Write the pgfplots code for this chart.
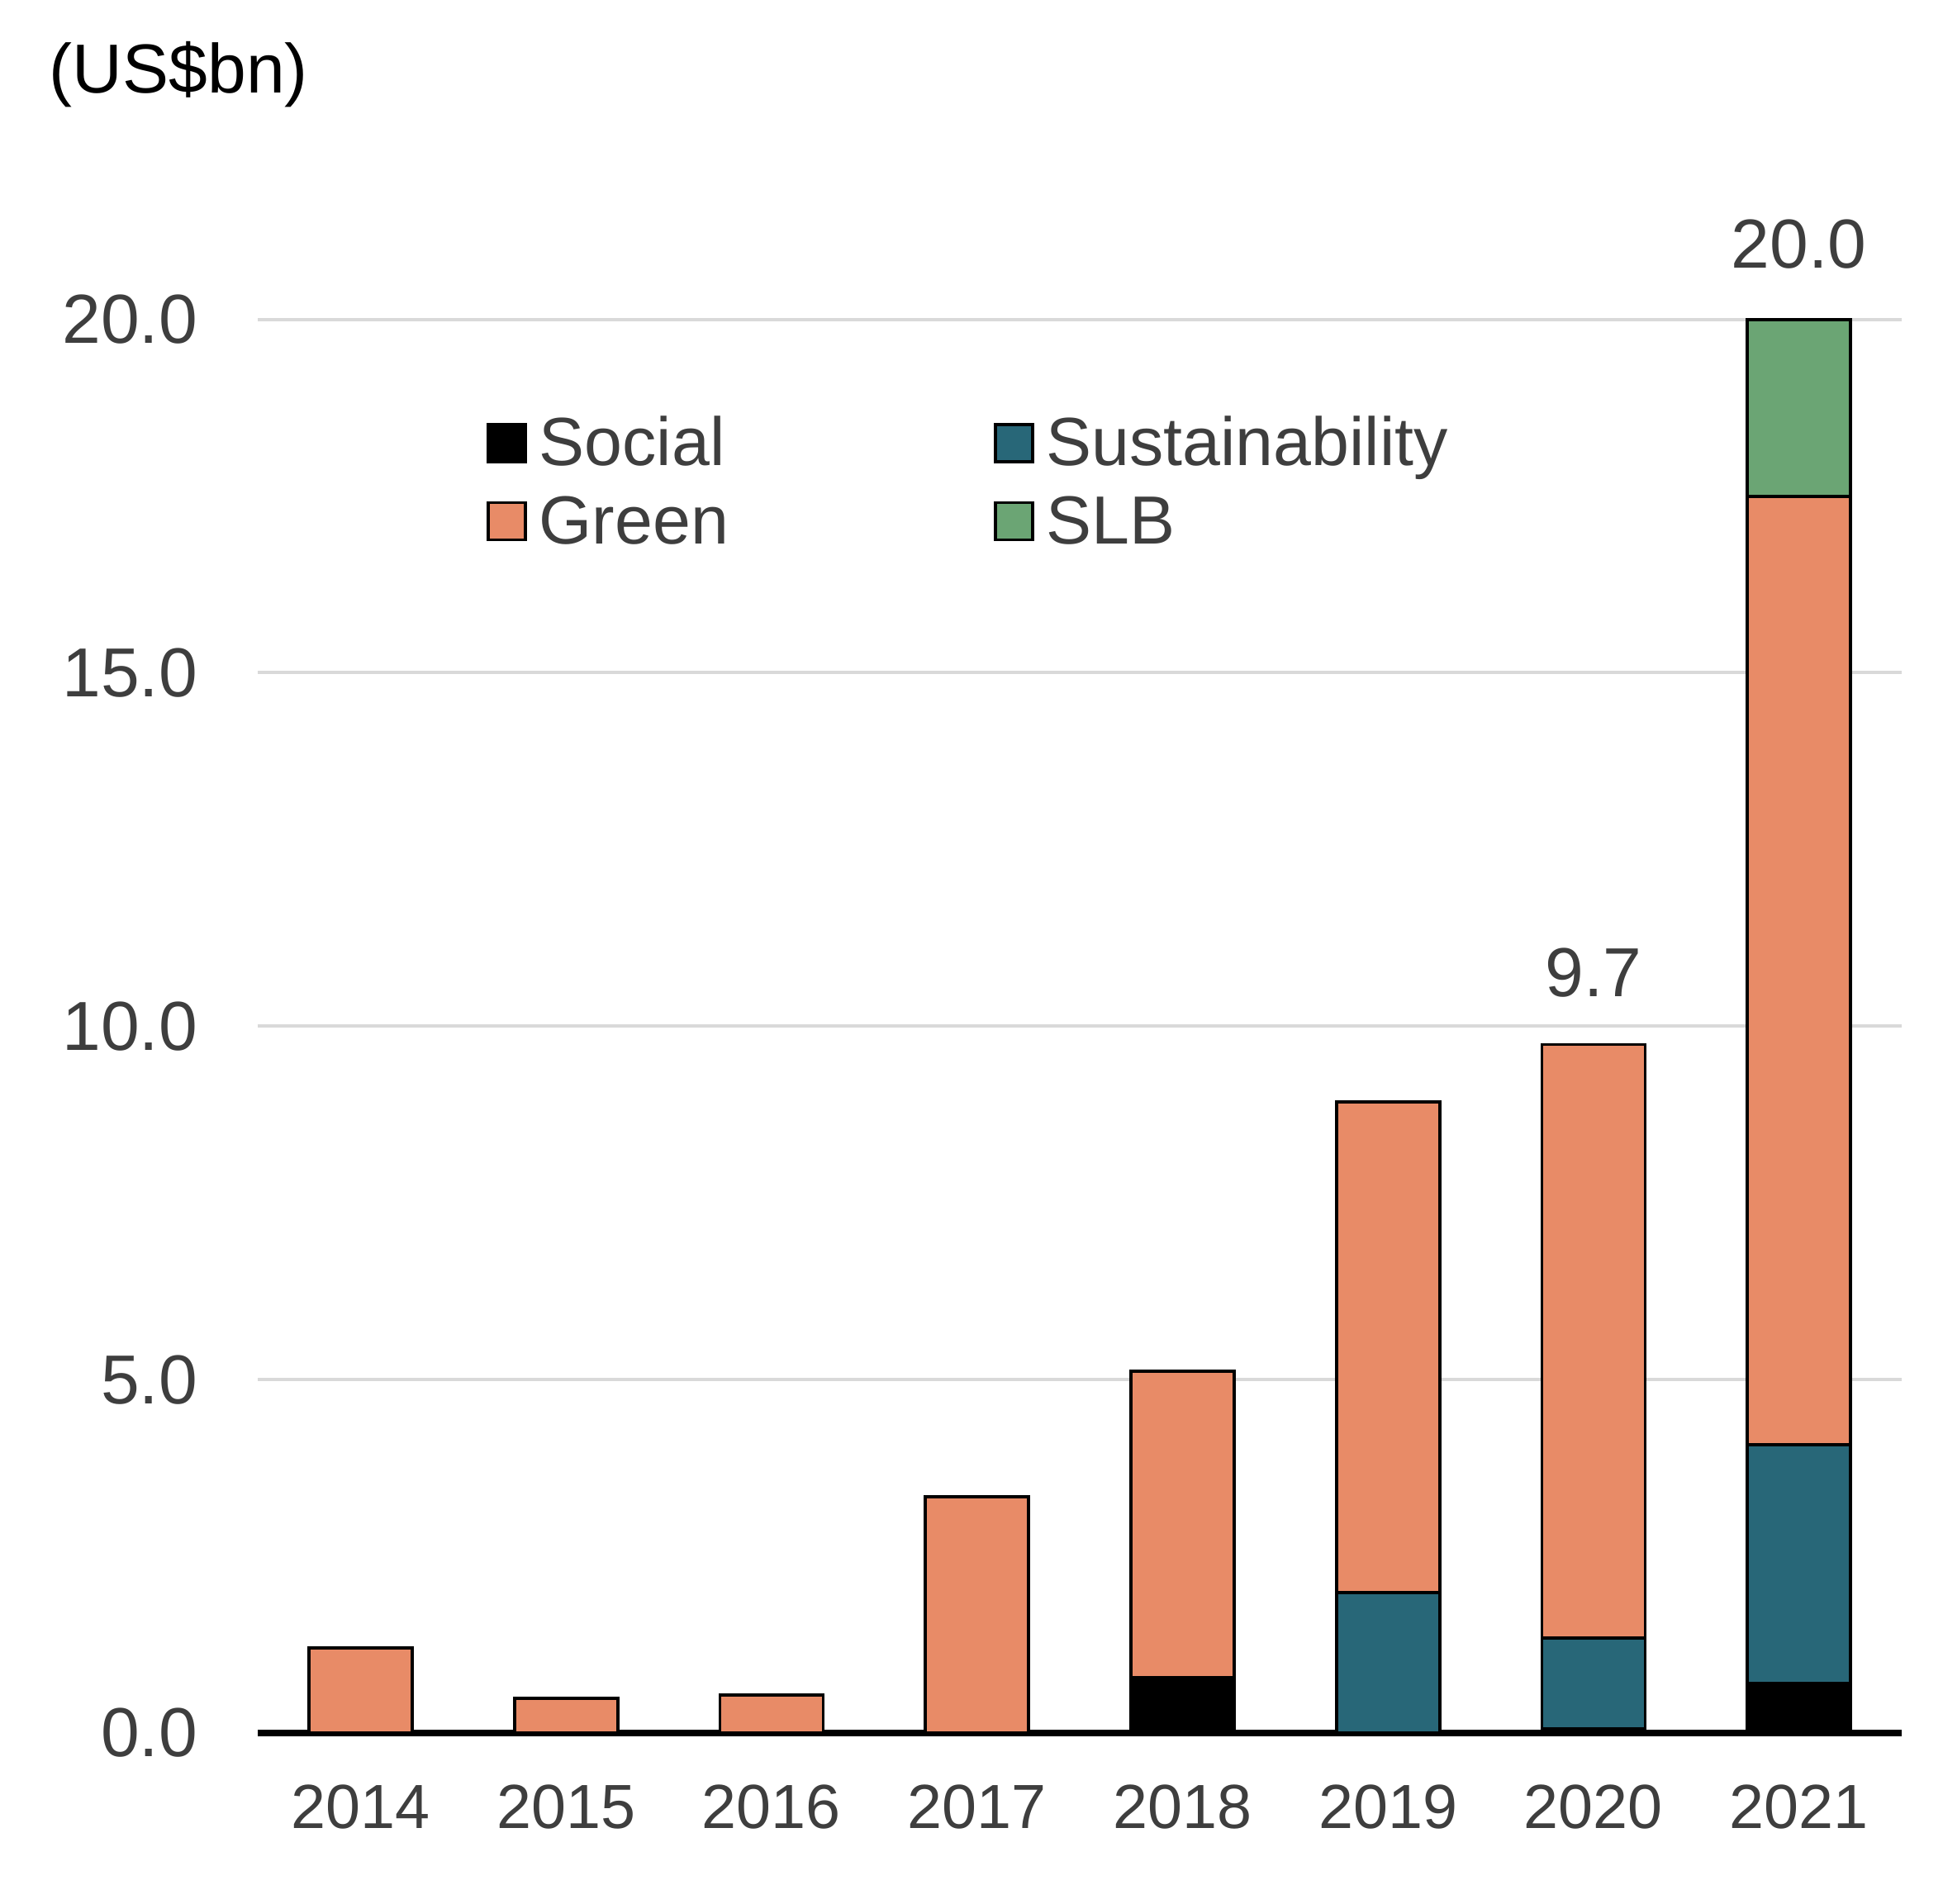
\documentclass[border=0pt]{standalone}
\usepackage{fontspec}
\setmainfont{Liberation Sans}
\usepackage{pgfplots}
\pgfplotsset{compat=1.18}
\definecolor{socialc}{RGB}{0,0,0}
\definecolor{sustc}{RGB}{40,103,120}
\definecolor{greenc}{RGB}{232,139,103}
\definecolor{slbc}{RGB}{107,165,116}
\definecolor{txtgray}{RGB}{62,62,62}
\definecolor{gridc}{RGB}{217,217,217}
\newcommand\bigf{\fontsize{16.8}{20}\selectfont}
\newcommand\legf{\fontsize{16.5}{20}\selectfont}
\newcommand\tickf{\fontsize{15.1}{18}\selectfont}
\begin{document}
\begin{tikzpicture}
\path[use as bounding box] (-62.4pt,-41.2pt) rectangle (408pt,419.6pt);
\begin{axis}[
  scale only axis,
  width=398pt, height=342.3pt,
  xmin=-0.5, xmax=7.5, ymin=0, ymax=20,
  clip=false,
  ybar stacked, bar width=25pt,
  axis line style={draw=none},
  major tick length=0pt,
  xtick={0,1,2,3,4,5,6,7},
  xticklabels={2014,2015,2016,2017,2018,2019,2020,2021},
  ytick={0,5,10,15,20},
  yticklabel={\pgfmathprintnumber[fixed,fixed zerofill,precision=1]{\tick}},
  /pgf/number format/assume math mode=true,
  yticklabel style={font=\bigf, text=txtgray, anchor=east, inner sep=0pt, xshift=-14.4pt},
  xticklabel style={font=\tickf, text=txtgray, anchor=north, inner sep=0pt, yshift=-12.4pt},
  ymajorgrids,
  grid style={draw=gridc, line width=0.8pt},
  every axis plot/.append style={draw=black, line width=0.75pt},
  legend columns=2,
  legend image code/.code={\draw[#1, line width=0.75pt] (0pt,-4.5pt) rectangle (9pt,4.5pt); \path (12pt,0pt);},
  legend style={at={(0.1387,0.9349)}, anchor=north west, draw=none, fill=none,
    inner sep=0pt, row sep=3.9pt, column sep=0pt,
    nodes={inner sep=0pt, text height=13pt, text depth=2pt, font=\legf, text=txtgray},
    cells={anchor=west}},
]
\addplot[fill=socialc] coordinates {(0,0) (1,0) (2,0) (3,0) (4,0.78) (5,0) (6,0.06) (7,0.70)};
\addlegendentry{\makebox[110pt][l]{Social}}
\addplot[fill=sustc] coordinates {(0,0) (1,0) (2,0) (3,0) (4,0) (5,1.99) (6,1.28) (7,3.38)};
\addlegendentry{\makebox[110pt][l]{Sustainability}}
\addplot[fill=greenc] coordinates {(0,1.20) (1,0.49) (2,0.54) (3,3.34) (4,4.34) (5,6.94) (6,8.40) (7,13.41)};
\addlegendentry{\makebox[110pt][l]{Green}}
\addplot[fill=slbc] coordinates {(0,0) (1,0) (2,0) (3,0) (4,0) (5,0) (6,0) (7,2.50)};
\addlegendentry{\makebox[110pt][l]{SLB}}
\draw[line width=1.6pt, black] (axis cs:-0.5,0) -- (axis cs:7.5,0);
\node[anchor=south, inner sep=0pt, font=\bigf, text=txtgray, yshift=11.2pt] at (axis cs:6,9.74) {9.7};
\node[anchor=south, inner sep=0pt, font=\bigf, text=txtgray, yshift=12.3pt] at (axis cs:7,19.99) {20.0};
\end{axis}
\node[anchor=base west, inner sep=0pt, font=\bigf, text=black] at (-50.6pt,397pt) {(US\$bn)};
\end{tikzpicture}
\end{document}
